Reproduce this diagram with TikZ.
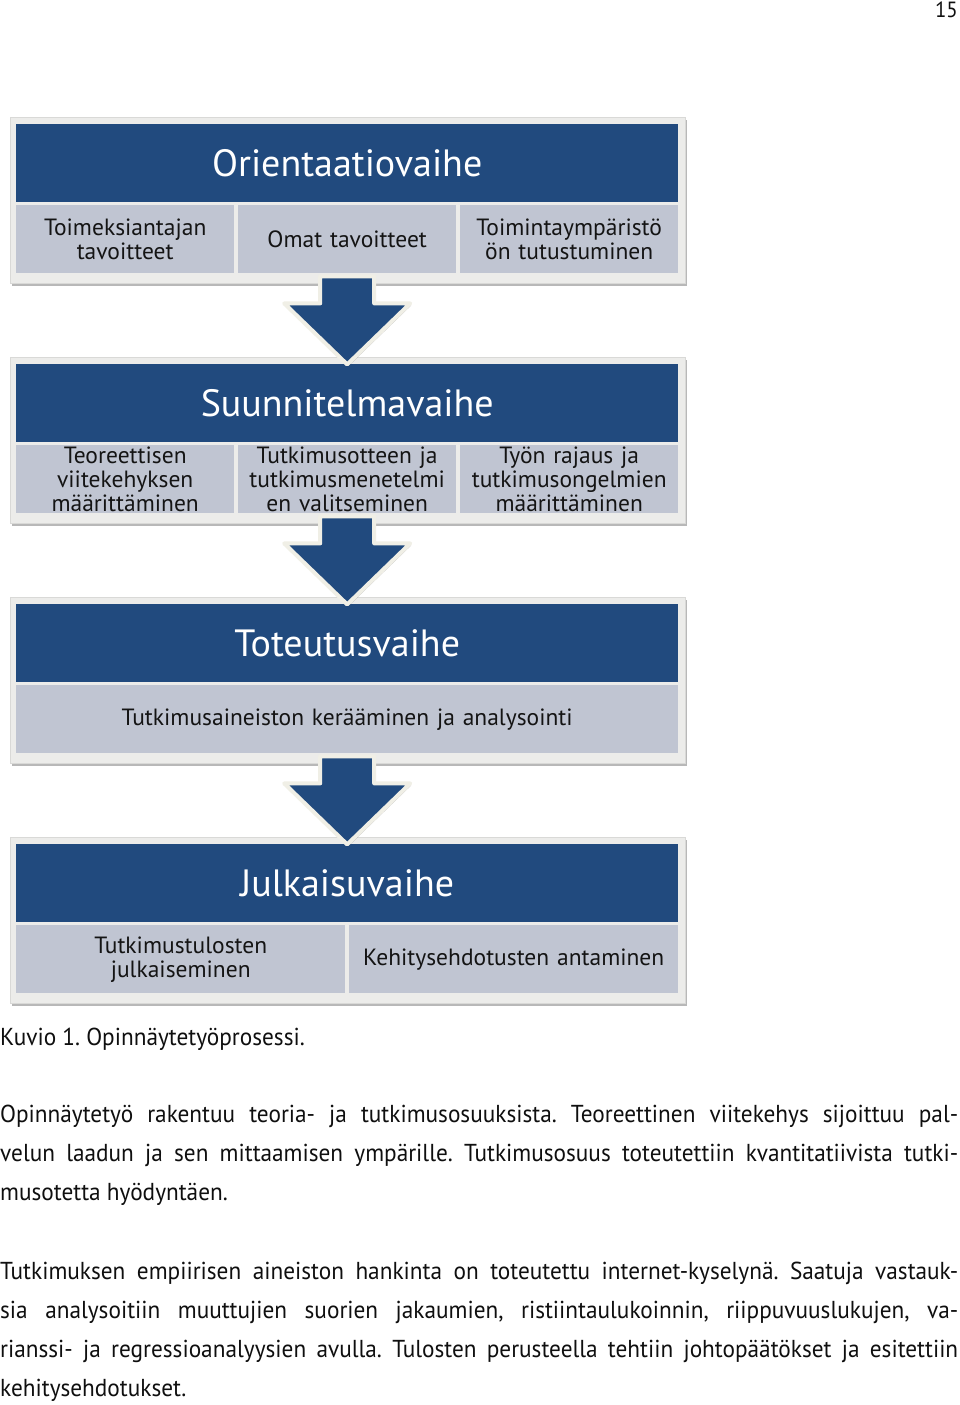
\documentclass[tikz,border=0pt]{standalone}
\usepackage{fontspec}
\setmainfont{PT Sans}
\newfontfamily\bodyfont[FakeStretch=0.95]{PT Sans}
\usetikzlibrary{calc,shadows}
\definecolor{hdrblue}{RGB}{33,74,126}
\definecolor{cellgray}{RGB}{192,197,210}
\definecolor{framegray}{RGB}{236,236,234}
\definecolor{arrowedge}{RGB}{240,239,230}
\definecolor{celltext}{RGB}{20,20,20}
\definecolor{bodytext}{RGB}{15,15,15}
\tikzset{
  frame/.style={fill=framegray, draw=framegray!92!black, line width=0.6pt, inner sep=0, anchor=north west,
    minimum width=675, minimum height=166,
    drop shadow={shadow xshift=1.5pt, shadow yshift=-3pt, opacity=0.28, fill=black}},
  hdr/.style={fill=hdrblue, text=white, font=\fontsize{38}{42}\selectfont, inner sep=0, anchor=north west,
    minimum width=662, minimum height=78},
  cell/.style={fill=cellgray, text=celltext, font=\fontsize{23.5}{24}\selectfont, inner sep=0, anchor=north west,
    minimum height=68, align=center},
  cell3/.style={cell, minimum width=218, text width=216},
  cell2/.style={cell, minimum width=329, text width=325},
  cell1/.style={cell, minimum width=662, text width=658},
  phasearrow/.style={fill=hdrblue, draw=arrowedge, line width=4pt, line join=round,
    drop shadow={shadow xshift=1pt, shadow yshift=-2pt, opacity=0.25, fill=black}},
  bodyline/.style={anchor=base west, inner sep=0, text=bodytext, font=\bodyfont\fontsize{24.5}{26}\selectfont\frenchspacing},
}
\begin{document}
\begin{tikzpicture}[x=1pt,y=-1pt]
\useasboundingbox[fill=white] (0,0) rectangle (960,1405);

% page number
\node[anchor=base east, inner sep=0, text=bodytext, font=\bodyfont\fontsize{22}{24}\selectfont] (pg) at (958,18) {15};

% ---- Box 1
\node[frame] (f1) at (10,117) {};
\node[hdr] (h1) at (16,124) {Orientaatiovaihe};
\node[cell3] (c11) at (16,205) {Toimeksiantajan\\tavoitteet};
\node[cell3] (c12) at (238,205) {Omat tavoitteet};
\node[cell3] (c13) at (460,205) {Toimintaympäristö\\ön tutustuminen};

% ---- Box 2
\node[frame] (f2) at (10,357) {};
\node[hdr] (h2) at (16,364) {Suunnitelmavaihe};
\node[cell3] (c21) at (16,445) {Teoreettisen\\viitekehyksen\\määrittäminen};
\node[cell3] (c22) at (238,445) {Tutkimusotteen ja\\tutkimusmenetelmi\\en valitseminen};
\node[cell3] (c23) at (460,445) {Työn rajaus ja\\tutkimusongelmien\\määrittäminen};

% ---- Box 3
\node[frame] (f3) at (10,597) {};
\node[hdr] (h3) at (16,604) {Toteutusvaihe};
\node[cell1] (c31) at (16,685) {Tutkimusaineiston kerääminen ja analysointi};

% ---- Box 4
\node[frame] (f4) at (10,837) {};
\node[hdr] (h4) at (16,844) {Julkaisuvaihe};
\node[cell2] (c41) at (16,925) {Tutkimustulosten\\julkaiseminen};
\node[cell2] (c42) at (349,925) {Kehitysehdotusten antaminen};

% ---- Arrows between phases
\coordinate (a1) at ($(c12.south)+(0,3)$);
\coordinate (a2) at ($(c22.south)+(0,3)$);
\coordinate (a3) at ($(c31.south)+(0,3)$);
\foreach \a in {a1,a2,a3}{
  \draw[phasearrow] (\a) ++(-27,0) -- ++(54,0) -- ++(0,27) -- ++(36,0) -- ++(-63,61) -- ++(-63,-61) -- ++(36,0) -- cycle;
}

% ---- caption and body text
\node[bodyline] (cap) at (0,1045) {Kuvio 1. Opinnäytetyöprosessi.};

\node[bodyline] (p1a) at (0,1122) {\makebox[958pt][s]{Opinnäytetyö rakentuu teoria- ja tutkimusosuuksista. Teoreettinen viitekehys sijoittuu pal-}};
\node[bodyline] (p1b) at (0,1161) {\makebox[958pt][s]{velun laadun ja sen mittaamisen ympärille. Tutkimusosuus toteutettiin kvantitatiivista tutki-}};
\node[bodyline] (p1c) at (0,1200) {musotetta hyödyntäen.};

\node[bodyline] (p2a) at (0,1279) {\makebox[958pt][s]{Tutkimuksen empiirisen aineiston hankinta on toteutettu internet-kyselynä. Saatuja vastauk-}};
\node[bodyline] (p2b) at (0,1318) {\makebox[958pt][s]{sia analysoitiin muuttujien suorien jakaumien, ristiintaulukoinnin, riippuvuuslukujen, va-}};
\node[bodyline] (p2c) at (0,1357) {\makebox[958pt][s]{rianssi- ja regressioanalyysien avulla. Tulosten perusteella tehtiin johtopäätökset ja esitettiin}};
\node[bodyline] (p2d) at (0,1396) {kehitysehdotukset.};
\end{tikzpicture}
\end{document}
